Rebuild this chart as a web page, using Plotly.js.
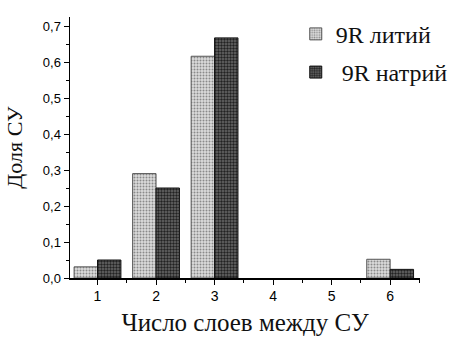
<!DOCTYPE html>
<html><head><meta charset="utf-8">
<script src="https://cdn.plot.ly/plotly-3.0.1.min.js"></script>
<style>html,body{margin:0;padding:0;background:#fff}#c{width:470px;height:340px}</style>
</head><body><div id="c"></div>
<script>
const layers = [1, 2, 3, 4, 5, 6];
const lithium = [0.031, 0.29, 0.616, 0, 0, 0.052];
const sodium = [0.05, 0.25, 0.667, 0, 0, 0.024];
const seriesNames = ['9R литий', '9R натрий'];

const outline = vals => vals.map(v => v > 0 ? 1 : 0);

const traces = [
  {type:'bar', x:layers, y:lithium, name:seriesNames[0], legendgroup:'a',
   marker:{color:'#cfcfcf', line:{color:'#555', width:outline(lithium)},
           pattern:{shape:'.', fgcolor:'#8a8a8a', bgcolor:'#dcdcdc', size:3, solidity:0.35}}},
  {type:'bar', x:layers, y:sodium, name:'&nbsp;'+seriesNames[1], legendgroup:'b',
   marker:{color:'#444', line:{color:'#111', width:outline(sodium)},
           pattern:{shape:'.', fgcolor:'#222', bgcolor:'#6a6a6a', size:3, solidity:0.5}}}
];

const serif = 'Liberation Serif, Times New Roman, serif';
const sans = 'Liberation Sans, Arial, sans-serif';

const layout = {
  width:470, height:340,
  margin:{l:70, r:50, t:15, b:62},
  paper_bgcolor:'#fff', plot_bgcolor:'#fff',
  separators:', ',
  barmode:'group', bargap:0.2, bargroupgap:0,
  showlegend:true,
  legend:{x:0.645, y:1.02, xanchor:'left', yanchor:'top', bgcolor:'rgba(0,0,0,0)',
          font:{family:serif, size:24, color:'#111'},
          itemwidth:30, tracegroupgap:4},
  xaxis:{range:[0.53, 6.51], tickvals:layers, ticktext:layers.map(String),
         showgrid:false, zeroline:false, showline:true, linecolor:'#000', linewidth:1.5,
         ticks:'outside', ticklen:5, tickcolor:'#000',
         minor:{ticks:'outside', ticklen:3, dtick:0.5, tick0:0.5, tickcolor:'#000'},
         tickfont:{family:sans, size:14, color:'#000'},
         title:{text:'Число слоев между СУ', standoff:10,
                font:{family:serif, size:25, color:'#111'}}},
  yaxis:{range:[0, 0.725], dtick:0.1, tickformat:'.1f',
         showgrid:false, zeroline:false, showline:true, linecolor:'#000', linewidth:1.5,
         ticks:'outside', ticklen:5, tickcolor:'#000',
         minor:{ticks:'outside', ticklen:3, dtick:0.05, tickcolor:'#000'},
         tickfont:{family:sans, size:13, color:'#000'},
         title:{text:'Доля СУ', standoff:14,
                font:{family:serif, size:22, color:'#111'}}}
};
Plotly.newPlot('c', traces, layout, {displayModeBar:false, staticPlot:true});
</script></body></html>
